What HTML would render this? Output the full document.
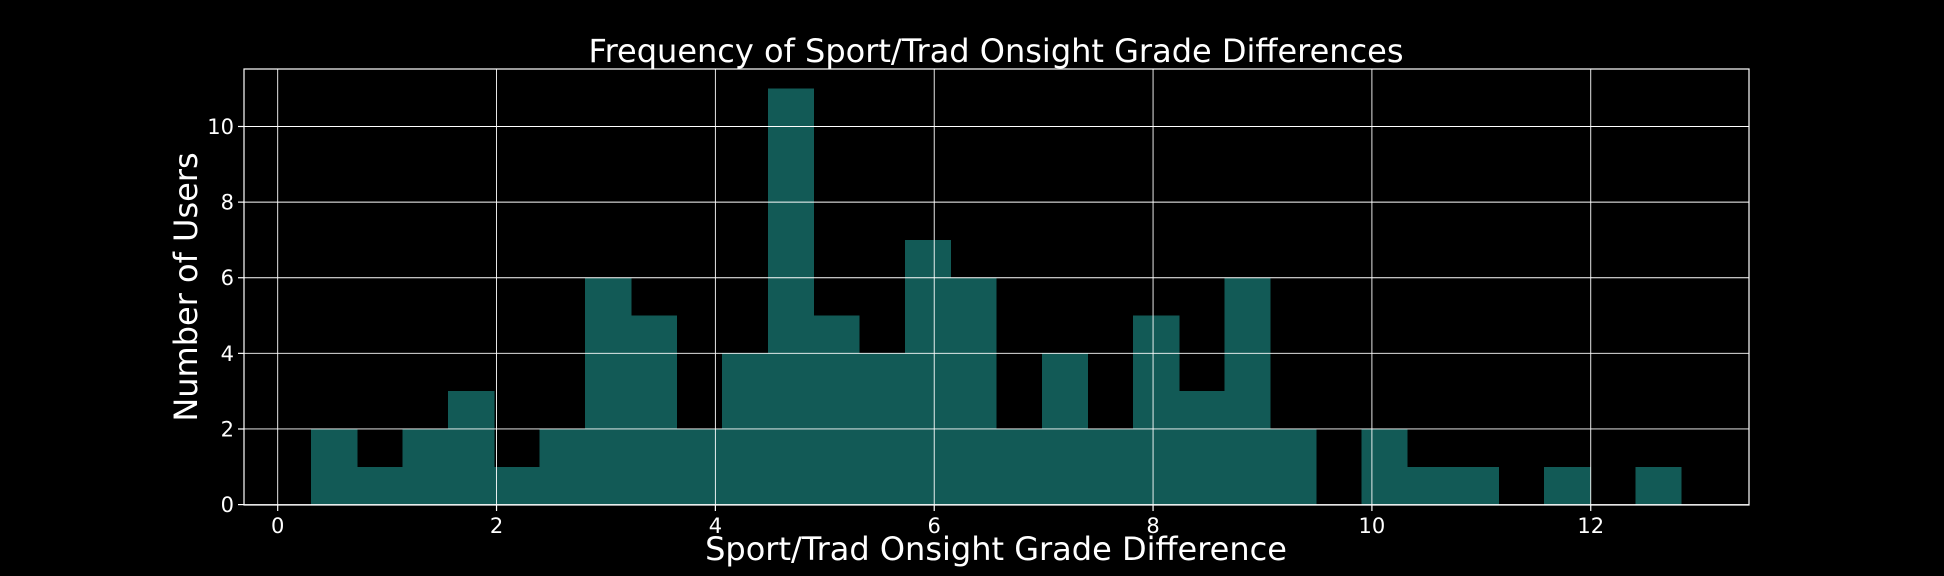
<!DOCTYPE html>
<html><head><meta charset="utf-8"><style>
html,body{margin:0;padding:0;background:#000;}
svg{display:block;}
text{font-family:"DejaVu Sans","Liberation Sans",sans-serif;fill:#fff;}
</style></head><body>
<svg id="chart" width="1944" height="576" viewBox="0 0 1944 576">
<rect width="1944" height="576" fill="#000"/>
<g id="bars" shape-rendering="crispEdges"></g>
<g id="grid"></g>
<g id="ticks"></g>
<rect x="244" y="69" width="1505" height="436" fill="none" stroke="#fff" stroke-width="1.2"/>
<text x="996" y="62" font-size="32" text-anchor="middle">Frequency of Sport/Trad Onsight Grade Differences</text>
<text x="996" y="560" font-size="32" text-anchor="middle">Sport/Trad Onsight Grade Difference</text>
<text x="0" y="0" font-size="32" text-anchor="middle" transform="translate(197,287) rotate(-90)">Number of Users</text>
</svg>
<script>
const binStart = 0.306;
const binWidth = 0.4173;
const counts = [2,1,2,3,1,2,6,5,2,4,11,5,4,7,6,2,4,2,5,3,6,2,0,2,1,1,0,1,0,1];
const xTicks = [0,2,4,6,8,10,12];
const yTicks = [0,2,4,6,8,10];
const NS = "http://www.w3.org/2000/svg";
const X = v => 277.7 + v * 109.42;
const Y = v => 504.6 - v * 37.81;
const L = 244, R = 1749, T = 69, B = 505;
const bars = document.getElementById('bars');
counts.forEach((c, i) => {
  if (!c) return;
  const r = document.createElementNS(NS, 'rect');
  const x0 = X(binStart + i * binWidth), x1 = X(binStart + (i + 1) * binWidth);
  r.setAttribute('x', x0); r.setAttribute('width', x1 - x0 + 0.6);
  r.setAttribute('y', Y(c)); r.setAttribute('height', Y(0) - Y(c));
  r.setAttribute('fill', '#125a56');
  
  
  bars.appendChild(r);
});
const grid = document.getElementById('grid'), ticks = document.getElementById('ticks');
function line(p, x1, y1, x2, y2, name, w) {
  const l = document.createElementNS(NS, 'line');
  l.setAttribute('x1', x1); l.setAttribute('y1', y1); l.setAttribute('x2', x2); l.setAttribute('y2', y2);
  l.setAttribute('stroke', '#fff'); l.setAttribute('stroke-width', w);
  
  
  p.appendChild(l);
}
function label(x, y, s, anchor, name) {
  const t = document.createElementNS(NS, 'text');
  t.setAttribute('x', x); t.setAttribute('y', y); t.setAttribute('font-size', '21');
  t.setAttribute('text-anchor', anchor); t.textContent = s;
  
  
  ticks.appendChild(t);
}
xTicks.forEach(v => {
  const x = X(v);
  line(grid, x, T, x, B, 'x-gridline', 0.9);
  line(ticks, x, B, x, B + 6, 'x-tick', 1.2);
  label(x, B + 28, String(v), 'middle', 'x-tick-label');
});
yTicks.forEach(v => {
  const y = Y(v);
  line(grid, L, y, R, y, 'y-gridline', 0.9);
  line(ticks, L - 6, y, L, y, 'y-tick', 1.2);
  label(L - 10, y + 7.5, String(v), 'end', 'y-tick-label');
});
</script>
</body></html>
